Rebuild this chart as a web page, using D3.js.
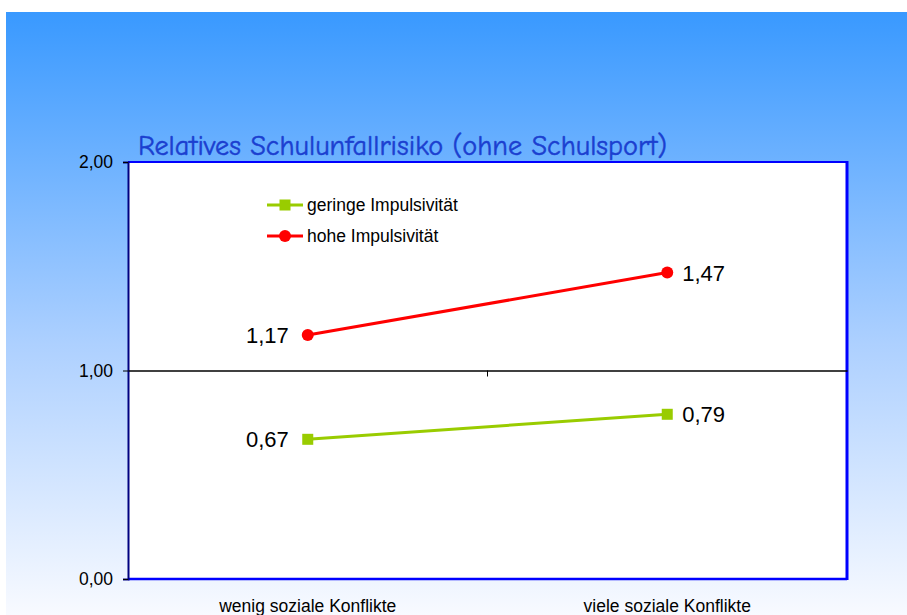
<!DOCTYPE html>
<html>
<head>
<meta charset="utf-8">
<script src="https://cdn.jsdelivr.net/npm/d3@7"></script>
<style>
  body { margin: 0; background: #fff; }
  svg { display: block; }
</style>
</head>
<body>
<div id="container"></div>
<script>
const categories = ["wenig soziale Konflikte", "viele soziale Konflikte"];
const seriesNames = ["geringe Impulsivität", "hohe Impulsivität"];
const geringe = [0.67, 0.79];
const hohe = [1.17, 1.47];
const yTicks = [0, 1, 2];

const width = 907, height = 615;
const plot = { left: 128, right: 847, top: 162, bottom: 579 };
const fmt = (v) => d3.format(".2f")(v).replace(".", ",");
const arial = "Arial, 'Liberation Sans', sans-serif";

let svg = d3.select("#container").append("svg")
  .attr("width", width).attr("height", height);

let grad = svg.append("defs").append("linearGradient")
  .attr("id", "bg").attr("x1", 0).attr("y1", 0).attr("x2", 0).attr("y2", 1);
grad.append("stop").attr("offset", "0%").attr("stop-color", "#3999ff");
grad.append("stop").attr("offset", "55%").attr("stop-color", "#add0ff");
grad.append("stop").attr("offset", "100%").attr("stop-color", "#f8faff");

svg.append("rect").attr("x", 6).attr("y", 12)
  .attr("width", width - 6).attr("height", height - 12)
  .attr("fill", "url(#bg)");

let x = d3.scaleBand().domain(categories).range([plot.left, plot.right]);
let y = d3.scaleLinear().domain([0, 2]).range([plot.bottom, plot.top]);

// plot area
svg.append("rect")
  .attr("x", plot.left).attr("y", plot.top)
  .attr("width", plot.right - plot.left).attr("height", plot.bottom - plot.top)
  .attr("fill", "#fff");

// frame
svg.append("line").attr("x1", plot.left).attr("x2", plot.right)
  .attr("y1", plot.top).attr("y2", plot.top)
  .attr("stroke", "#0000ff").attr("stroke-width", 2);
svg.append("line").attr("x1", plot.right).attr("x2", plot.right)
  .attr("y1", plot.top - 1).attr("y2", plot.bottom + 1)
  .attr("stroke", "#0000ff").attr("stroke-width", 3);
svg.append("line").attr("x1", plot.left).attr("x2", plot.right)
  .attr("y1", plot.bottom).attr("y2", plot.bottom)
  .attr("stroke", "#0000ff").attr("stroke-width", 2.5);

// y axis
let yAxis = svg.append("g")
  .attr("transform", `translate(${plot.left},0)`)
  .call(d3.axisLeft(y).tickValues(yTicks).tickFormat(fmt).tickSize(5).tickPadding(10));
yAxis.select(".domain").attr("stroke", "#000080").attr("stroke-width", 2);
yAxis.selectAll(".tick line").attr("stroke", "#000");
yAxis.selectAll("text").attr("font-family", arial)
  .attr("font-size", 17.5).attr("fill", "#000");

// category axis crossing at 1
let xAxis = svg.append("g")
  .attr("transform", `translate(0,${y(1)})`)
  .call(d3.axisBottom(x).tickValues([]).tickSizeOuter(0));
xAxis.select(".domain").attr("stroke", "#000").attr("stroke-width", 1.4);
xAxis.append("line")
  .attr("x1", plot.left + x.bandwidth()).attr("x2", plot.left + x.bandwidth())
  .attr("y1", 0).attr("y2", 6).attr("stroke", "#000");

// category labels
svg.selectAll(".cat").data(categories).enter().append("text")
  .attr("x", (d) => x(d) + x.bandwidth() / 2)
  .attr("y", 612)
  .attr("text-anchor", "middle")
  .attr("font-family", arial)
  .attr("font-size", 17.5).attr("fill", "#000")
  .text((d) => d);

// title
svg.append("text")
  .attr("x", 138).attr("y", 155)
  .attr("font-family", "'Comic Sans MS', 'Comic Neue', 'DejaVu Sans', sans-serif")
  .attr("font-size", 28).attr("fill", "#1b3fd0")
  .attr("stroke", "#1b3fd0").attr("stroke-width", 0.5)
  .attr("textLength", 529).attr("lengthAdjust", "spacingAndGlyphs")
  .text("Relatives Schulunfallrisiko (ohne Schulsport)");

const cx = (i) => x(categories[i]) + x.bandwidth() / 2;
let line = d3.line().x((d, i) => cx(i)).y((d) => y(d));

const series = [
  { name: seriesNames[0], values: geringe, color: "#99cc00", marker: "square" },
  { name: seriesNames[1], values: hohe, color: "#ff0000", marker: "circle" }
];

function marker(g, s, px, py) {
  if (s.marker === "square") {
    g.append("rect").attr("x", px - 5.5).attr("y", py - 5.5)
      .attr("width", 11).attr("height", 11).attr("fill", s.color);
  } else {
    g.append("circle").attr("cx", px).attr("cy", py).attr("r", 6).attr("fill", s.color);
  }
}

series.forEach((s) => {
  let g = svg.append("g");
  g.append("path").datum(s.values).attr("d", line)
    .attr("fill", "none").attr("stroke", s.color).attr("stroke-width", 3);
  s.values.forEach((v, i) => {
    marker(g, s, cx(i), y(v));
    g.append("text")
      .attr("x", i === 0 ? cx(i) - 19 : cx(i) + 15)
      .attr("y", y(v) + 8)
      .attr("text-anchor", i === 0 ? "end" : "start")
      .attr("font-family", arial)
      .attr("font-size", 22).attr("fill", "#000")
      .text(fmt(v));
  });
});

// legend
let legend = svg.append("g");
series.forEach((s, i) => {
  let ly = 205 + i * 31;
  legend.append("line").attr("x1", 267).attr("x2", 303)
    .attr("y1", ly).attr("y2", ly)
    .attr("stroke", s.color).attr("stroke-width", 3);
  marker(legend, s, 285, ly);
  legend.append("text").attr("x", 307).attr("y", ly + 6)
    .attr("font-family", arial)
    .attr("font-size", 17.5).attr("fill", "#000")
    .text(s.name);
});
</script>
</body>
</html>
